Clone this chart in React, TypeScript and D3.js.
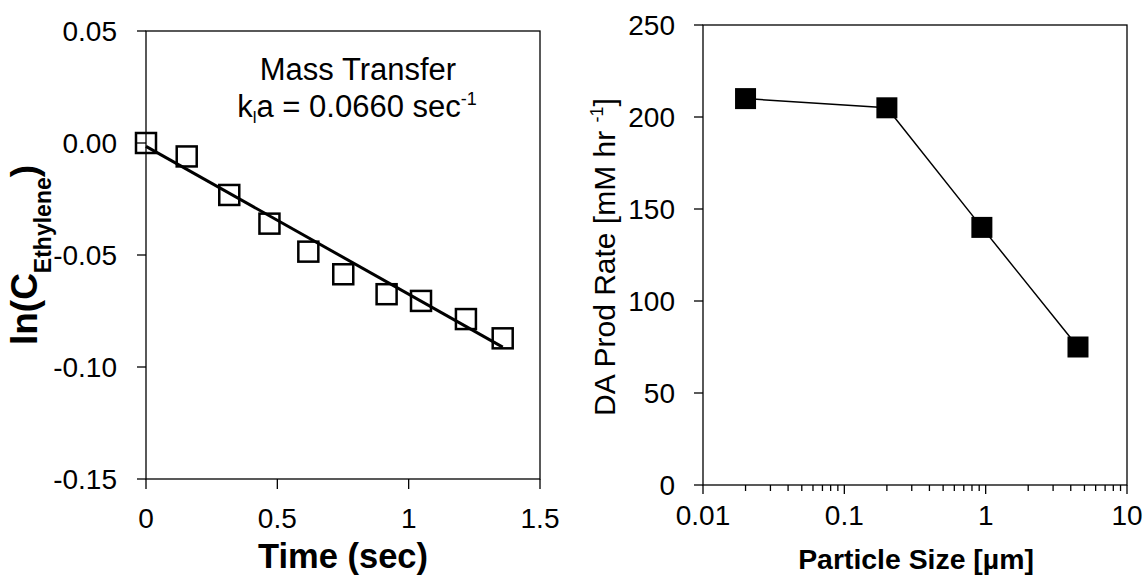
import * as d3 from "d3";

// left panel: ln(C) vs time, with linear fit
const timeSec = [0, 0.155, 0.317, 0.47, 0.618, 0.751, 0.916, 1.047, 1.218, 1.358];
const lnConc = [0, -0.006, -0.0232, -0.036, -0.0485, -0.0586, -0.0675, -0.0705, -0.0786, -0.0872];
const fitSlope = -0.066;
const fitIntercept = -0.0015;
const timeTicks = [0, 0.5, 1, 1.5];
const lnTicks = [0.05, 0, -0.05, -0.1, -0.15];

// right panel: production rate vs particle size (log x)
const particleSize = [0.02, 0.2, 0.94, 4.5];
const prodRate = [210, 205, 140, 75];
const sizeTicks = [0.01, 0.1, 1, 10];
const sizeTickLabels = ["0.01", "0.1", "1", "10"];
const rateTicks = [0, 50, 100, 150, 200, 250];

const W = 1144, H = 578;
const font = "'Liberation Sans', Arial, sans-serif";

const L = { left: 146, right: 540, top: 31, bottom: 479 };
const R = { left: 703, right: 1127, top: 25, bottom: 485 };

const App = () => {
    const xL = d3.scaleLinear().domain([0, 1.5]).range([L.left, L.right]);
    const yL = d3.scaleLinear().domain([-0.15, 0.05]).range([L.bottom, L.top]);
    const xR = d3.scaleLog().domain([0.01, 10]).range([R.left, R.right]);
    const yR = d3.scaleLinear().domain([0, 250]).range([R.bottom, R.top]);

    const fitPts = [0, timeSec[timeSec.length - 1]].map((t) => [t, fitIntercept + fitSlope * t]);
    const fitPath = d3.line().x((d) => xL(d[0])).y((d) => yL(d[1]))(fitPts);

    const ratePath = d3
        .line()
        .x((d, i) => xR(particleSize[i]))
        .y((d) => yR(d))(prodRate);

    // minor log ticks 2..9 per decade
    const minor = [];
    [0.01, 0.1, 1].forEach((dec) => {
        for (let k = 2; k <= 9; k++) minor.push(dec * k);
    });

    const sq = 20;

    return (
        <svg width={W} height={H} style={{ position: "absolute", left: 0, top: 0, background: "#fff" }}
            fontFamily={font}>
            {/* ---------- left chart ---------- */}
            <rect x={L.left} y={L.top} width={L.right - L.left} height={L.bottom - L.top}
                fill="none" stroke="#000" strokeWidth={1.3} />
            {lnTicks.map((v) => (
                <g key={"ly" + v}>
                    <line x1={L.left - 9} x2={L.left} y1={yL(v)} y2={yL(v)} stroke="#000" strokeWidth={1.3} />
                    <text x={L.left - 29} y={yL(v)} dy="0.36em" textAnchor="end" fontSize={28}>
                        {v.toFixed(2)}
                    </text>
                </g>
            ))}
            {timeTicks.map((v) => (
                <g key={"lx" + v}>
                    <line x1={xL(v)} x2={xL(v)} y1={L.bottom} y2={L.bottom + 10} stroke="#000" strokeWidth={1.3} />
                    <text x={xL(v)} y={L.bottom + 49} textAnchor="middle" fontSize={28}>
                        {String(v)}
                    </text>
                </g>
            ))}
            <path d={fitPath} stroke="#000" strokeWidth={3} fill="none" />
            {timeSec.map((t, i) => (
                <rect key={"p" + i} x={xL(t) - sq / 2} y={yL(lnConc[i]) - sq / 2} width={sq} height={sq}
                    fill="none" stroke="#000" strokeWidth={2.5} />
            ))}
            <text x={358} y={80} textAnchor="middle" fontSize={31}>Mass Transfer</text>
            <text x={357} y={117} textAnchor="middle" fontSize={31}>
                k<tspan fontSize={17} dy={6}>l</tspan>
                <tspan dy={-6}>a = 0.0660 sec</tspan>
                <tspan fontSize={18} dy={-12}>-1</tspan>
            </text>
            <text transform={`translate(37,255) rotate(-90)`} textAnchor="middle" fontSize={37} fontWeight="bold">
                ln(C<tspan fontSize={23} dy={14}>Ethylene</tspan>
                <tspan dy={-14}>)</tspan>
            </text>
            <text x={(L.left + L.right) / 2} y={568} textAnchor="middle" fontSize={34.5} fontWeight="bold">
                Time (sec)
            </text>

            {/* ---------- right chart ---------- */}
            <rect x={R.left} y={R.top} width={R.right - R.left} height={R.bottom - R.top}
                fill="none" stroke="#000" strokeWidth={1.3} />
            {rateTicks.map((v) => (
                <g key={"ry" + v}>
                    <line x1={R.left - 9} x2={R.left} y1={yR(v)} y2={yR(v)} stroke="#000" strokeWidth={1.3} />
                    <text x={R.left - 28} y={yR(v)} dy="0.36em" textAnchor="end" fontSize={28}>
                        {v}
                    </text>
                </g>
            ))}
            {sizeTicks.map((v, i) => (
                <g key={"rx" + v}>
                    <line x1={xR(v)} x2={xR(v)} y1={R.bottom} y2={R.bottom + 9} stroke="#000" strokeWidth={1.3} />
                    <text x={xR(v)} y={R.bottom + 40} textAnchor="middle" fontSize={28}>
                        {sizeTickLabels[i]}
                    </text>
                </g>
            ))}
            {minor.map((v) => (
                <line key={"m" + v} x1={xR(v)} x2={xR(v)} y1={R.bottom} y2={R.bottom + 6} stroke="#000" strokeWidth={1.3} />
            ))}
            <path d={ratePath} stroke="#000" strokeWidth={1.5} fill="none" />
            {prodRate.map((r, i) => (
                <rect key={"q" + i} x={xR(particleSize[i]) - 10.5} y={yR(r) - 10.5} width={21} height={21} fill="#000" />
            ))}
            <text transform={`translate(615,257) rotate(-90)`} textAnchor="middle" fontSize={30}>
                DA Prod Rate [mM hr <tspan fontSize={18} dy={-12}>-1</tspan>
                <tspan dy={12}>]</tspan>
            </text>
            <text x={916} y={569} textAnchor="middle" fontSize={28.4} fontWeight="bold">
                Particle Size [µm]
            </text>
        </svg>
    );
};

export default App;
